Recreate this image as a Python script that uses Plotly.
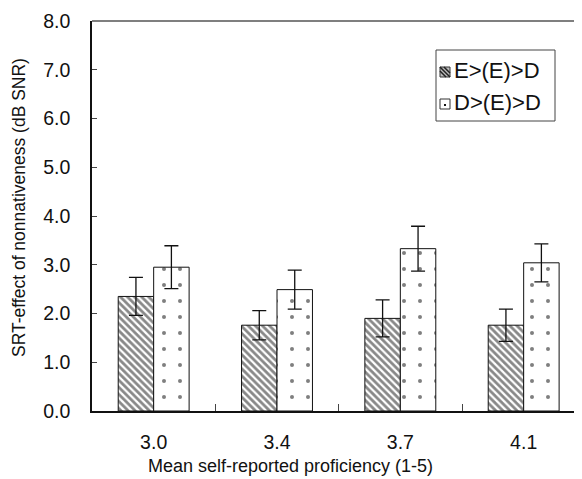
import plotly.graph_objects as go

categories = ["3.0", "3.4", "3.7", "4.1"]
series_names = ["E>(E)>D", "D>(E)>D"]
e_values = [2.35, 1.76, 1.90, 1.76]
e_errors = [0.39, 0.30, 0.38, 0.33]
d_values = [2.95, 2.49, 3.33, 3.04]
d_errors = [0.44, 0.40, 0.46, 0.39]
y_ticks = [0, 1, 2, 3, 4, 5, 6, 7, 8]
x_title = "Mean self-reported proficiency (1-5)"
y_title = "SRT-effect of nonnativeness (dB SNR)"

# the page body has an 8px margin; the figure is sized to fill the rest of the window
OFF = 8
W, H = 582 - OFF, 479 - OFF
ML, MR, MT, MB = 92 - OFF, 0, 21 - OFF, 68
PW, PH = W - ML - MR, H - MT - MB
FONT = "Arial, Liberation Sans, sans-serif"


def px(x):
    """screen x pixel -> paper fraction"""
    return (x - OFF - ML) / PW


def py(y):
    """screen y pixel -> paper fraction"""
    return (H - MB - (y - OFF)) / PH


fig = go.Figure()
fig.add_trace(go.Bar(
    x=categories, y=e_values, name=series_names[0], showlegend=False,
    marker=dict(color="white", line=dict(color="#111", width=1),
                pattern=dict(shape="\\", fgcolor="#111", bgcolor="white", size=5, solidity=0.55)),
    error_y=dict(type="data", array=e_errors, color="#111", thickness=1.3, width=7),
))
fig.add_trace(go.Bar(
    x=categories, y=d_values, name=series_names[1], showlegend=False,
    marker=dict(color="white", line=dict(color="#111", width=1),
                pattern=dict(shape=".", fgcolor="#000", bgcolor="white", size=16, solidity=0.05)),
    error_y=dict(type="data", array=d_errors, color="#111", thickness=1.3, width=7),
))

shapes = [
    dict(type="line", xref="paper", yref="paper", x0=0, x1=1, y0=1, y1=1,
         line=dict(color="#555", width=1.5)),
    # legend box
    dict(type="rect", xref="paper", yref="paper", x0=px(436), x1=px(555), y0=py(121), y1=py(50),
         line=dict(color="#444", width=1), fillcolor="white", layer="above"),
    # swatch E
    dict(type="rect", xref="paper", yref="paper", x0=px(440), x1=px(450), y0=py(77), y1=py(67),
         line=dict(color="#333", width=1), fillcolor="#bbbbbb", layer="above"),
    # swatch D
    dict(type="rect", xref="paper", yref="paper", x0=px(440), x1=px(450), y0=py(109), y1=py(99),
         line=dict(color="#333", width=1), fillcolor="white", layer="above"),
]
for off in (-4, 0, 4):
    x0, y0 = 440 + max(0, off), 67 + max(0, -off)
    x1, y1 = 450 + min(0, off), 77 + min(0, -off)
    shapes.append(dict(type="line", xref="paper", yref="paper", x0=px(x0), y0=py(y0), x1=px(x1), y1=py(y1),
                       line=dict(color="#222", width=1.5), layer="above"))
shapes.append(dict(type="rect", xref="paper", yref="paper", x0=px(444), x1=px(446), y0=py(106), y1=py(104),
                   line=dict(width=0), fillcolor="#111", layer="above"))

annotations = [
    dict(text=series_names[0], xref="paper", yref="paper", x=px(452), y=py(71), xanchor="left", yanchor="middle",
         showarrow=False, font=dict(family=FONT, size=22, color="#111")),
    dict(text=series_names[1], xref="paper", yref="paper", x=px(452), y=py(102), xanchor="left", yanchor="middle",
         showarrow=False, font=dict(family=FONT, size=22, color="#111")),
    dict(text=x_title, xref="paper", yref="paper", x=px(290), y=py(466), xanchor="center", yanchor="middle",
         showarrow=False, font=dict(family=FONT, size=18, color="#111")),
    dict(text=y_title, xref="paper", yref="paper", x=px(19), y=py(208), xanchor="center", yanchor="middle",
         textangle=-90, showarrow=False, font=dict(family=FONT, size=17.5, color="#111")),
]

fig.update_layout(
    width=W, height=H,
    margin=dict(l=ML, r=MR, t=MT, b=MB, pad=0, autoexpand=False),
    paper_bgcolor="white", plot_bgcolor="white",
    barmode="group", bargap=0.425, bargroupgap=0,
    font=dict(family=FONT, size=19, color="#111"),
    shapes=shapes, annotations=annotations,
    showlegend=False,
    xaxis=dict(
        type="category", range=[-0.5, 3.473], tickson="boundaries", automargin=False,
        ticks="inside", ticklen=7, tickcolor="#444", tickwidth=1,
        showline=True, linecolor="#111", linewidth=1.5, showgrid=False, zeroline=False,
        tickfont=dict(size=19.5), ticklabelstandoff=13,
    ),
    yaxis=dict(
        range=[0, 8], tickvals=y_ticks, tickformat=".1f", automargin=False,
        ticks="inside", ticklen=5, tickcolor="#444", tickwidth=1,
        showline=True, linecolor="#111", linewidth=1.5, showgrid=False, zeroline=False,
        tickfont=dict(size=19.5), ticklabelstandoff=16,
    ),
)

fig.write_html("out.html")
